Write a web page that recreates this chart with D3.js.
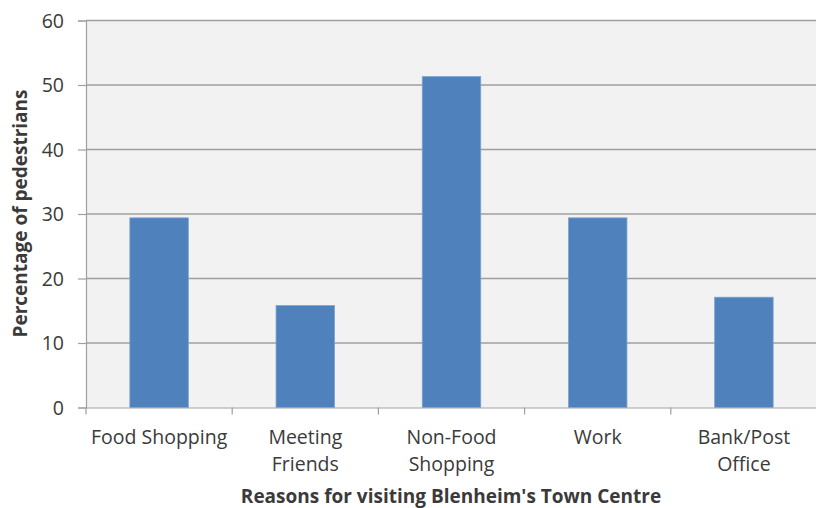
<!DOCTYPE html>
<html>
<head>
<meta charset="utf-8">
<script src="https://cdn.jsdelivr.net/npm/d3@7"></script>
<style>
  html, body { margin: 0; padding: 0; background: #fff; overflow: hidden; }
  svg { display: block; }
  text { font-family: "Open Sans", "Noto Sans", sans-serif; fill: #3a3a3a; }
</style>
</head>
<body>
<svg id="chart" width="816" height="508"></svg>
<script>
// Reasons for visiting the town centre and share of pedestrians (%)
const categories = [
  ["Food Shopping"],
  ["Meeting", "Friends"],
  ["Non-Food", "Shopping"],
  ["Work"],
  ["Bank/Post", "Office"]
];
const values = [29.4, 15.8, 51.3, 29.4, 17.1];
const yTicks = [0, 10, 20, 30, 40, 50, 60];
const yTitle = "Percentage of pedestrians";
const xTitle = "Reasons for visiting Blenheim's Town Centre";

const svg = d3.select("#chart");
const plotLeft = 86, plotRight = 817, plotTop = 20.5, plotBottom = 407.5;

const x = d3.scaleBand()
  .domain(categories.map((d, i) => i))
  .range([plotLeft, plotRight])
  .paddingInner(0.6)
  .paddingOuter(0.3);
const xOuter = d3.scaleBand()
  .domain(categories.map((d, i) => i))
  .range([plotLeft, plotRight]);
const y = d3.scaleLinear().domain([0, 60]).range([plotBottom, plotTop]);

// plot area
svg.append("rect")
  .attr("x", plotLeft).attr("y", plotTop)
  .attr("width", plotRight - plotLeft).attr("height", plotBottom - plotTop)
  .attr("fill", "#f2f2f2");

// gridlines
svg.append("g")
  .selectAll("line")
  .data(yTicks.filter(t => t > 0))
  .join("line")
  .attr("x1", plotLeft).attr("x2", plotRight)
  .attr("y1", d => y(d)).attr("y2", d => y(d))
  .attr("stroke", "#9f9f9f").attr("stroke-width", 1.5);

// bars
svg.append("g")
  .selectAll("rect")
  .data(values)
  .join("rect")
  .attr("x", (d, i) => x(i))
  .attr("width", x.bandwidth())
  .attr("y", d => y(d))
  .attr("height", d => y(0) - y(d))
  .attr("fill", "#4f81bd")
  .attr("stroke", "#7da2d0").attr("stroke-width", 0.8);

// y axis
const yAxis = svg.append("g")
  .attr("transform", `translate(${plotLeft},0)`)
  .call(d3.axisLeft(y).tickValues(yTicks).tickSize(8).tickPadding(14));
yAxis.select(".domain").attr("stroke", "#9f9f9f").attr("stroke-width", 1.2);
yAxis.selectAll(".tick line").attr("stroke", "#9f9f9f").attr("stroke-width", 1.2);
yAxis.selectAll(".tick text")
  .style("font-size", "19.5px").attr("fill", "#3a3a3a").attr("dy", "0.35em");

// x axis
const xAxis = svg.append("g")
  .attr("transform", `translate(0,${plotBottom})`)
  .call(d3.axisBottom(xOuter).tickSize(0).tickFormat(""));
xAxis.select(".domain").attr("stroke", "#9f9f9f").attr("stroke-width", 1.2);
xAxis.selectAll(".tick").remove();

// category separator ticks
svg.append("g")
  .selectAll("line")
  .data(d3.range(categories.length + 1))
  .join("line")
  .attr("x1", i => i < categories.length ? xOuter(i) : plotRight)
  .attr("x2", i => i < categories.length ? xOuter(i) : plotRight)
  .attr("y1", plotBottom).attr("y2", plotBottom + 7)
  .attr("stroke", "#9f9f9f").attr("stroke-width", 1.2);

// category labels
const labels = svg.append("g")
  .selectAll("text")
  .data(categories)
  .join("text")
  .attr("text-anchor", "middle")
  .style("font-size", "19.5px")
  .attr("transform", (d, i) => `translate(${xOuter(i) + xOuter.bandwidth() / 2},444)`);
labels.selectAll("tspan")
  .data(d => d)
  .join("tspan")
  .attr("x", 0)
  .attr("dy", (d, j) => j === 0 ? 0 : 27)
  .text(d => d);

// axis titles
svg.append("text")
  .attr("transform", `translate(27,213.5) rotate(-90)`)
  .attr("text-anchor", "middle")
  .style("font-size", "19px").style("font-weight", "bold")
  .attr("fill", "#000")
  .text(yTitle);

svg.append("text")
  .attr("x", 451).attr("y", 502.5)
  .attr("text-anchor", "middle")
  .style("font-size", "19px").style("font-weight", "bold")
  .attr("fill", "#000")
  .text(xTitle);
</script>
</body>
</html>
